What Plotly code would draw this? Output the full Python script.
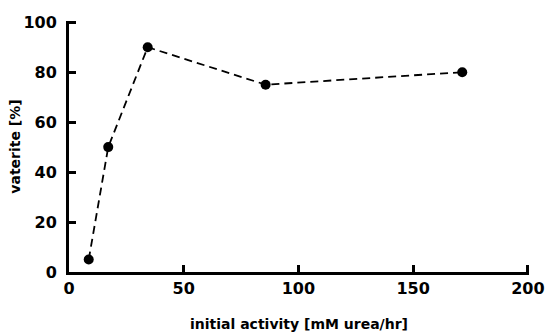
import plotly.graph_objects as go

# Initial urease activity vs. vaterite fraction
activity = [8.6, 17.1, 34.3, 85.7, 171.4]
vaterite = [5, 50, 90, 75, 80]

x_ticks = [0, 50, 100, 150, 200]
y_ticks = [0, 20, 40, 60, 80, 100]

family = "DejaVu Sans, sans-serif"
tick_font = dict(family=family, size=16, color="black")
title_font = dict(family=family, size=14, color="black")

fig = go.Figure(
    go.Scatter(
        x=activity,
        y=vaterite,
        mode="lines+markers",
        line=dict(color="black", width=1.8, dash="8px,5px"),
        marker=dict(color="black", size=10),
        showlegend=False,
    )
)

axis_common = dict(
    showline=True,
    linecolor="black",
    linewidth=3,
    ticks="inside",
    ticklen=7,
    tickwidth=2.5,
    tickcolor="black",
    showgrid=False,
    zeroline=False,
    automargin=False,
    tickfont=tick_font,
)

# ranges end a hair past the last tick so the end ticks are drawn
fig.update_xaxes(
    range=[0, 200.5],
    tickvals=x_ticks,
    ticktext=[f"<b>{v}</b>" for v in x_ticks],
    title=dict(text="<b>initial activity [mM urea/hr]</b>", font=title_font, standoff=22),
    ticklabelstandoff=0,
    **axis_common,
)
fig.update_yaxes(
    range=[0, 100.5],
    tickvals=y_ticks,
    ticktext=[f"<b>{v}</b>" for v in y_ticks],
    title=dict(text="<b>vaterite [%]</b>", font=title_font, standoff=0),
    ticklabelstandoff=6,
    **axis_common,
)

fig.update_layout(
    width=547,
    height=336,
    margin=dict(l=69, r=18, t=21, b=64),
    paper_bgcolor="white",
    plot_bgcolor="white",
    font=title_font,
)

fig.write_html("out.html")
